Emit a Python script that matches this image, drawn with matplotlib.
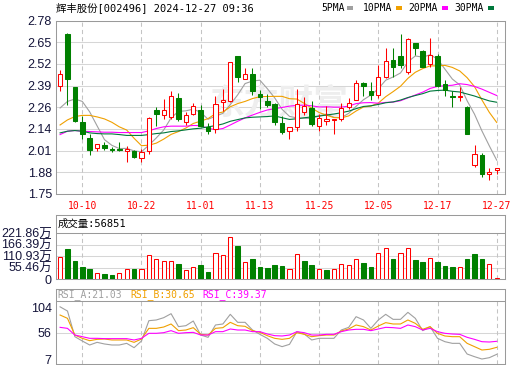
import numpy as np
import matplotlib
matplotlib.use("Agg")
from matplotlib import pyplot as plt
from matplotlib.patches import Rectangle

W, H = 520, 365
MONO_CJK = ["DejaVu Sans Mono", "Noto Sans CJK SC"]
plt.rcParams["font.family"] = ["Liberation Sans", "Noto Sans CJK SC"]

# Daily bars, 2024-09-30 .. 2024-12-27 (60 trading days)
opens = [2.392, 2.699, 2.385, 2.180, 2.080, 2.023, 2.039, 2.015, 2.017, 2.005,
         2.005, 1.966, 2.005, 2.251, 2.219, 2.208, 2.320, 2.180, 2.225, 2.251,
         2.149, 2.137, 2.298, 2.304, 2.569, 2.432, 2.463, 2.345, 2.304, 2.286,
         2.172, 2.125, 2.149, 2.235, 2.261, 2.153, 2.184, 2.188, 2.196, 2.267,
         2.310, 2.408, 2.359, 2.339, 2.444, 2.546, 2.569, 2.473, 2.644, 2.599,
         2.520, 2.571, 2.404, 2.331, 2.325, 2.267, 1.923, 1.980, 1.866, 1.893]
highs = [2.487, 2.707, 2.386, 2.211, 2.109, 2.046, 2.060, 2.031, 2.060, 2.035,
         2.009, 2.015, 2.208, 2.265, 2.316, 2.359, 2.349, 2.239, 2.290, 2.276,
         2.172, 2.333, 2.373, 2.536, 2.569, 2.497, 2.497, 2.365, 2.345, 2.290,
         2.211, 2.149, 2.373, 2.329, 2.304, 2.227, 2.274, 2.196, 2.290, 2.320,
         2.428, 2.418, 2.418, 2.516, 2.620, 2.615, 2.699, 2.674, 2.644, 2.605,
         2.679, 2.579, 2.428, 2.359, 2.385, 2.275, 2.039, 1.995, 1.907, 1.907]
lows = [2.359, 2.276, 2.180, 2.078, 1.980, 2.005, 2.011, 2.000, 2.005, 1.940,
        1.966, 1.940, 1.985, 2.156, 2.196, 2.198, 2.182, 2.160, 2.217, 2.152,
        2.107, 2.113, 2.241, 2.294, 2.418, 2.432, 2.339, 2.255, 2.267, 2.162,
        2.109, 2.074, 2.123, 2.221, 2.153, 2.123, 2.162, 2.109, 2.182, 2.255,
        2.306, 2.333, 2.310, 2.320, 2.438, 2.447, 2.497, 2.463, 2.575, 2.502,
        2.506, 2.388, 2.333, 2.265, 2.300, 2.107, 1.913, 1.852, 1.834, 1.866]
closes = [2.461, 2.432, 2.182, 2.105, 2.011, 2.046, 2.023, 2.009, 2.009, 2.019,
          1.970, 2.000, 2.202, 2.225, 2.251, 2.331, 2.196, 2.219, 2.273, 2.156,
          2.127, 2.284, 2.306, 2.532, 2.447, 2.463, 2.359, 2.329, 2.280, 2.176,
          2.121, 2.149, 2.284, 2.271, 2.166, 2.202, 2.196, 2.196, 2.259, 2.290,
          2.412, 2.392, 2.339, 2.444, 2.542, 2.506, 2.516, 2.668, 2.620, 2.506,
          2.575, 2.392, 2.365, 2.325, 2.333, 2.107, 1.989, 1.871, 1.879, 1.907]

ma5 = [2.261, 2.300, 2.314, 2.300, 2.238, 2.155, 2.073, 2.039, 2.020, 2.021,
       2.006, 2.001, 2.040, 2.083, 2.130, 2.202, 2.241, 2.244, 2.254, 2.235,
       2.194, 2.212, 2.229, 2.281, 2.339, 2.406, 2.421, 2.426, 2.376, 2.321,
       2.253, 2.211, 2.202, 2.200, 2.198, 2.214, 2.224, 2.206, 2.204, 2.229,
       2.271, 2.310, 2.338, 2.375, 2.426, 2.445, 2.469, 2.535, 2.570, 2.563,
       2.577, 2.552, 2.492, 2.433, 2.398, 2.304, 2.224, 2.125, 2.036, 1.951]
ma10 = [2.160, 2.190, 2.210, 2.217, 2.217, 2.208, 2.196, 2.176, 2.149, 2.130,
        2.081, 2.037, 2.040, 2.052, 2.076, 2.104, 2.121, 2.142, 2.169, 2.183,
        2.198, 2.227, 2.237, 2.268, 2.287, 2.300, 2.317, 2.328, 2.329, 2.330,
        2.330, 2.316, 2.314, 2.288, 2.260, 2.234, 2.218, 2.204, 2.202, 2.214,
        2.243, 2.267, 2.272, 2.290, 2.328, 2.358, 2.390, 2.437, 2.473, 2.495,
        2.511, 2.511, 2.514, 2.502, 2.481, 2.441, 2.388, 2.309, 2.235, 2.175]
ma20 = [2.103, 2.123, 2.127, 2.123, 2.121, 2.119, 2.117, 2.117, 2.115, 2.115,
        2.115, 2.115, 2.125, 2.139, 2.149, 2.153, 2.153, 2.153, 2.157, 2.156,
        2.140, 2.132, 2.139, 2.160, 2.182, 2.202, 2.219, 2.235, 2.249, 2.257,
        2.264, 2.272, 2.276, 2.278, 2.274, 2.267, 2.268, 2.266, 2.266, 2.272,
        2.287, 2.292, 2.293, 2.289, 2.294, 2.296, 2.304, 2.321, 2.338, 2.355,
        2.377, 2.389, 2.393, 2.396, 2.405, 2.400, 2.389, 2.373, 2.354, 2.335]
ma30 = [2.113, 2.123, 2.127, 2.123, 2.113, 2.109, 2.107, 2.107, 2.103, 2.098,
        2.098, 2.098, 2.103, 2.109, 2.113, 2.121, 2.125, 2.131, 2.137, 2.141,
        2.149, 2.156, 2.166, 2.182, 2.192, 2.202, 2.206, 2.208, 2.210, 2.214,
        2.203, 2.193, 2.197, 2.203, 2.208, 2.213, 2.219, 2.225, 2.233, 2.242,
        2.257, 2.270, 2.274, 2.282, 2.292, 2.297, 2.308, 2.323, 2.335, 2.346,
        2.361, 2.365, 2.367, 2.360, 2.356, 2.344, 2.332, 2.317, 2.303, 2.295]

# volume in 万
volume = [104.5, 144.7, 86.8, 57.9, 48.2, 27.3, 24.1, 19.3, 27.3, 46.6,
          48.2, 48.2, 114.1, 94.8, 85.2, 85.2, 72.3, 43.4, 56.3, 67.5,
          33.8, 123.8, 115.7, 200.9, 159.1, 80.4, 96.5, 57.9, 53.0, 67.5,
          62.7, 46.6, 120.6, 86.8, 67.5, 46.6, 43.4, 46.6, 70.7, 65.9,
          94.8, 77.2, 57.9, 123.8, 147.9, 96.5, 123.8, 147.9, 91.6, 82.0,
          99.7, 82.0, 62.7, 57.9, 56.3, 96.5, 122.2, 96.5, 70.7, 5.69]

rsi_a = [105.0, 97.1, 49.0, 40.9, 33.4, 38.4, 35.3, 33.4, 33.4, 36.5,
         28.4, 40.9, 79.0, 80.3, 84.6, 92.1, 67.8, 69.6, 78.4, 52.1,
         47.8, 70.9, 72.8, 90.9, 75.9, 75.9, 61.5, 53.4, 45.9, 35.3,
         30.3, 34.6, 58.4, 54.0, 42.8, 45.9, 45.9, 45.9, 61.5, 66.5,
         86.5, 80.3, 64.6, 80.3, 90.9, 81.5, 81.5, 94.6, 83.4, 60.3,
         67.8, 45.9, 39.6, 36.5, 36.5, 16.5, 11.5, 7.1, 9.6, 15.9]
rsi_b = [89.6, 83.4, 52.1, 45.9, 41.5, 44.0, 44.6, 42.8, 42.8, 42.8,
         38.4, 44.6, 64.6, 64.6, 67.1, 72.8, 60.3, 61.5, 65.9, 53.4,
         52.1, 64.6, 65.9, 75.9, 69.6, 68.4, 60.3, 57.1, 50.9, 45.9,
         44.0, 45.9, 56.5, 53.4, 49.0, 50.9, 52.1, 52.1, 59.6, 63.4,
         70.9, 67.8, 61.5, 69.0, 75.3, 72.8, 72.8, 80.3, 74.0, 62.8,
         67.8, 55.3, 50.3, 49.0, 49.0, 36.5, 30.3, 24.0, 25.3, 29.0]
rsi_c = [66.5, 64.6, 52.1, 49.0, 45.9, 45.9, 45.3, 45.3, 45.3, 45.3,
         42.8, 45.9, 55.3, 55.3, 56.5, 60.3, 55.3, 56.5, 57.1, 52.1,
         52.1, 58.4, 58.4, 63.4, 61.5, 61.5, 58.4, 58.4, 54.0, 50.9,
         50.3, 52.1, 58.4, 56.5, 52.1, 52.1, 53.4, 53.4, 58.4, 61.5,
         62.8, 62.8, 60.3, 63.4, 66.5, 65.9, 64.6, 70.9, 67.8, 61.5,
         64.6, 58.4, 55.3, 54.0, 53.4, 47.8, 44.0, 39.6, 39.0, 40.3]

date_idx = [3, 11, 19, 27, 35, 43, 51, 59]
date_labels = ["10-10", "10-22", "11-01", "11-13", "11-25", "12-05", "12-17", "12-27"]
price_labels = ["1.75", "1.88", "2.01", "2.14", "2.26", "2.39", "2.52", "2.65", "2.78"]
vol_labels = ["0", "55.46万", "110.93万", "166.39万", "221.86万"]
rsi_ticks = [7, 56, 104]

title = "辉丰股份[002496] 2024-12-27 09:36"
vol_title = "成交量:56851"
rsi_titles = ["RSI_A:21.03", "RSI_B:30.65", "RSI_C:39.37"]

RED = "#ff0000"
GREEN = "#008000"
FRAME = "#9a9a9a"
GRID = "#d6d6d6"
VGRID = "#c4c4c4"
LABEL = "#14143a"
C5, C10, C20, C30 = "#a0a0a0", "#f0a000", "#ff00ff", "#00783c"

o, h, l, c = map(np.array, (opens, highs, lows, closes))
x = np.arange(len(c))
up = c >= o
body_lo = np.minimum(o, c)
body_hi = np.maximum(o, c)
body_h = np.maximum(body_hi - body_lo, 0.003)

fig = plt.figure(figsize=(W / 100, H / 100), dpi=100)


def panel(left, top, right, bottom):
    a = fig.add_axes([left / W, 1 - bottom / H, (right - left) / W, (bottom - top) / H])
    for s in a.spines.values():
        s.set_color(FRAME)
        s.set_linewidth(0.75)
    a.set_xlim(-0.55, 60.12)
    a.tick_params(length=0, labelsize=9, labelcolor=LABEL, pad=3)
    a.set_xticks([])
    return a


def ftext(px, py, s, **kw):
    fig.text(px / W, 1 - py / H, s, va="center", **kw)


# ---- price panel ----
ax = panel(56, 20.6, 505, 194)
ymin, ymax = 1.75, 2.78
ax.set_ylim(ymin, ymax)
ypos = np.linspace(ymin, ymax, len(price_labels))
ax.set_yticks(ypos, price_labels)
ax.hlines(ypos, -1, 61, color=GRID, lw=0.75, zorder=0)
ax.vlines(date_idx, ymin, ymax, color=VGRID, lw=0.75, linestyles=(0, (4, 3)), zorder=0)
ax.text(29.7, 2.29, "东方财富", color="#eeeeee", fontsize=25, fontweight="bold",
        ha="center", va="center", family="Noto Sans CJK SC", zorder=0.5)

ax.plot(x, ma5, color=C5, lw=0.8, zorder=2)
ax.plot(x, ma10, color=C10, lw=0.8, zorder=2)
ax.plot(x, ma20, color=C20, lw=0.8, zorder=2)
ax.plot(x, ma30, color=C30, lw=0.8, zorder=2)

cols = np.where(up, RED, GREEN)
ax.vlines(x, l, body_lo, color=cols, lw=0.75, zorder=3)
ax.vlines(x, body_hi, h, color=cols, lw=0.75, zorder=3)
ax.bar(x[up], body_h[up], bottom=body_lo[up], width=0.58, facecolor="white",
       edgecolor=RED, lw=0.75, zorder=4)
ax.bar(x[~up], body_h[~up], bottom=body_lo[~up], width=0.62, facecolor=GREEN,
       edgecolor=GREEN, lw=0.75, zorder=4)

ax.set_xticks(date_idx, date_labels)
ax.tick_params(axis="x", labelcolor=RED, labelsize=7, pad=5)
for lbl in ax.get_xticklabels():
    lbl.set_fontfamily(MONO_CJK)

ftext(56, 8, title, family=MONO_CJK, fontsize=7.5, color="black")
legend = [("5PMA", 321.7, 347, C5), ("10PMA", 363, 395.7, C10),
          ("20PMA", 408.3, 442.3, C20), ("30PMA", 454, 488, C30)]
for name, tx, sx, col in legend:
    ftext(tx, 8, name, family=MONO_CJK, fontsize=7, color="black")
    fig.add_artist(Rectangle((sx / W, 1 - 10 / H), 6 / W, 3.8 / H,
                             transform=fig.transFigure, color=col, lw=0))

# ---- volume panel ----
axv = panel(56, 215, 505, 279)
vtop = 221.86
axv.set_ylim(0, vtop * 64 / 46)
vpos = np.linspace(0, vtop, len(vol_labels))
axv.set_yticks(vpos, vol_labels)
axv.hlines(vpos[1:-1], -1, 61, color=GRID, lw=0.75, zorder=0)
axv.axhline(vtop, color=FRAME, lw=0.75)
axv.vlines(date_idx, 0, vtop, color=VGRID, lw=0.75, linestyles=(0, (4, 3)), zorder=0)
vol = np.array(volume)
vol_up = np.concatenate([[True], c[1:] >= c[:-1]])
axv.bar(x[vol_up], vol[vol_up], width=0.58, facecolor="white", edgecolor=RED, lw=0.75, zorder=3)
axv.bar(x[~vol_up], vol[~vol_up], width=0.62, facecolor=GREEN, edgecolor=GREEN, lw=0.75, zorder=3)
ftext(58, 224, vol_title, family=MONO_CJK, fontsize=7.5, color="black")

# ---- RSI panel ----
axr = panel(56, 289, 505, 364.3)
rlo, rhi, rdiv = -2.8, 138.4, 115.9
axr.set_ylim(rlo, rhi)
axr.set_yticks(rsi_ticks, [str(t) for t in rsi_ticks])
axr.axhline(56, color=GRID, lw=0.75, zorder=0)
axr.axhline(rdiv, color=FRAME, lw=0.75)
axr.vlines(date_idx, rlo, rdiv, color=VGRID, lw=0.75, linestyles=(0, (4, 3)), zorder=0)
axr.plot(x, rsi_a, color=C5, lw=0.8, zorder=2)
axr.plot(x, rsi_b, color=C10, lw=0.8, zorder=3)
axr.plot(x, rsi_c, color=C20, lw=0.8, zorder=4)
for s, tx, col in zip(rsi_titles, [57.7, 130, 202], [C5, C10, C20]):
    ftext(tx, 294.5, s, family=MONO_CJK, fontsize=7, color=col)

fig.savefig("out.png", dpi=100)
